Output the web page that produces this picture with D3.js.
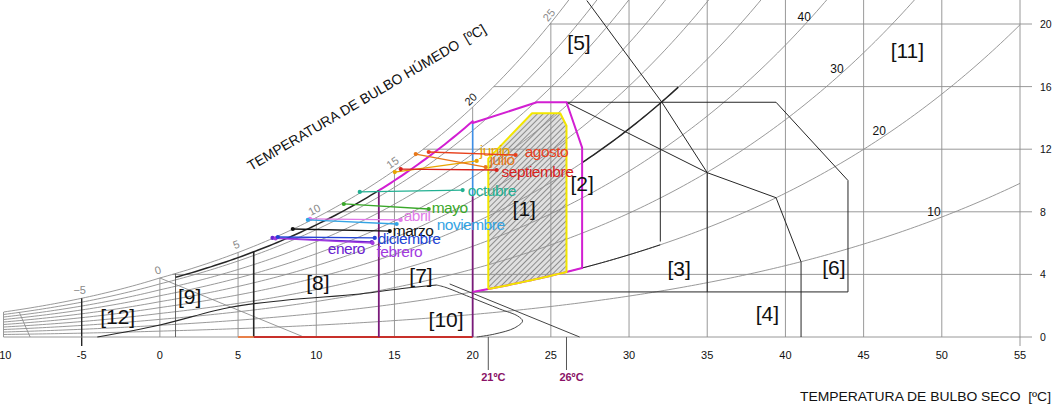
<!DOCTYPE html>
<html>
<head>
<meta charset="utf-8">
<script src="https://cdn.jsdelivr.net/npm/d3@7"></script>
<style>
  html, body { margin: 0; padding: 0; background: #fff; }
  svg { display: block; }
  text { font-family: "Liberation Sans", Arial, Helvetica, sans-serif; }
</style>
</head>
<body>
<svg id="chart" width="1057" height="411"></svg>
<script>
// ---- axes -------------------------------------------------------------
const dryBulbTicks = [-10, -5, 0, 5, 10, 15, 20, 25, 30, 35, 40, 45, 50, 55];
const humidityTicks = [0, 4, 8, 12, 16, 20];
const wetBulbLabels = [-5, 0, 5, 10, 15, 20, 25];
const rhCurves = [10, 20, 30, 40, 50, 60, 70, 80, 90, 100];
// relative humidity label: [rh, dry bulb where the label sits]
const rhLabelRh = [10, 20, 30, 40];
const rhLabelT = [49.5, 46.0, 43.3, 41.2];
const comfortMarks = [21, 26];

// ---- monthly climate: [T at one end, w], [T at other end, w] ------------
const months = ["enero", "febrero", "marzo", "abril", "mayo", "junio",
                "julio", "agosto", "septiembre", "octubre", "noviembre", "diciembre"];
const tStart = [7.2, 7.4, 8.5, 9.6, 11.76, 15.02, 16.36, 17.19, 15.4, 12.78, 9.46, 7.54];
const wStart = [6.33, 6.3, 6.9, 7.55, 8.50, 10.54, 11.69, 11.82, 10.73, 9.27, 7.48, 6.39];
const tEnd   = [13.55, 13.6, 14.7, 15.4, 17.19, 20.26, 20.83, 22.75, 21.53, 19.36, 15.14, 13.74];
const wEnd   = [6.07, 6.0, 6.77, 7.48, 8.18, 11.25, 10.86, 11.63, 10.67, 9.39, 7.22, 6.33];

// ---- bioclimatic zones (dry bulb, humidity) ------------------------------
const zoneNames = ["[1]", "[2]", "[3]", "[4]", "[5]", "[6]", "[7]", "[8]", "[9]", "[10]", "[11]", "[12]"];
const zoneLabelT = [23.3, 27.0, 33.2, 38.85, 26.8, 43.1, 16.7, 10.1, 1.9, 18.3, 47.8, -2.7];
const zoneLabelW = [8.24, 9.84, 4.4, 1.53, 18.8, 4.47, 3.96, 3.5, 2.56, 1.09, 18.3, 1.34];

// upper-left edge of the comfort zone [1]
const comfortTop = [[26, 13.5], [25.6, 14.3], [23.8, 14.3], [21, 11.4]];
// extended comfort zone [2], upper edge after the 94 % curve
const extendedTop = [[20, 13.67], [24.1, 15.0], [26, 15.0], [27, 12.1], [27, 4.55]];
// outline of zones [3] and [6]
const outerBox = [[26, 15.0], [39.4, 15.0], [44, 10.0], [44, 2.88], [20, 2.88]];
const coolingEdge = [[26, 15.0], [35, 10.5], [39.4, 8.9], [41, 4.8], [41, 0]];
const ventilationEdge = [[27.3, 21.5], [32.1, 15.0], [35, 10.5], [35, 2.88]];
const massEdge = [[32, 15.0], [32, 6.1]];
const heatingCurve = [[-4, 0], [0, 0.77], [4.5, 1.9], [8, 2.35], [12.8, 2.75], [15.5, 3.1], [17.7, 3.32]];
const humidifyCurve = [[17.7, 3.32], [18.21, 3.19], [19.81, 2.56], [21.73, 1.79], [22.88, 1.34],
                       [23.19, 1.02], [22.68, 0.58], [21.41, 0.19], [20.26, 0]];
const wetBulbEdge = [[18.53, 3.39], [26.84, 0]];
const wetBulbZero = [[0, 3.77], [9.2, 0]];
const coldEdge = [[-9.0, 1.6], [-8.3, 0]];

// ---- psychrometrics (sea level) ----------------------------------------
const P_ATM = 101.325;
function satPressure(t) {
  return t >= 0 ? 0.61078 * Math.exp(17.27 * t / (t + 237.3))
                : 0.61078 * Math.exp(21.875 * t / (t + 265.5));
}
function humidityRatio(t, rh) {
  const pv = rh / 100 * satPressure(t);
  return 621.98 * pv / (P_ATM - pv);
}
function satTemperature(w) {
  let lo = -40, hi = 80;
  for (let i = 0; i < 60; i++) {
    const mid = (lo + hi) / 2;
    if (humidityRatio(mid, 100) < w) lo = mid; else hi = mid;
  }
  return (lo + hi) / 2;
}
function rhPoints(rh, t0, t1, step = 0.25) {
  const pts = [];
  const n = Math.max(1, Math.ceil(Math.abs(t1 - t0) / step));
  for (let i = 0; i <= n; i++) {
    const t = t0 + (t1 - t0) * i / n;
    pts.push([t, humidityRatio(t, rh)]);
  }
  return pts;
}

// ---- drawing -----------------------------------------------------------
const svg = d3.select("#chart");
const x = d3.scaleLinear().domain([-10, 55]).range([3.5, 1020]);
const y = d3.scaleLinear().domain([0, 20]).range([337, 24]);
const wTop = y.invert(-2);

const line = d3.line().x(d => x(d[0])).y(d => y(d[1]));
const smooth = d3.line().x(d => x(d[0])).y(d => y(d[1])).curve(d3.curveCatmullRom.alpha(0.5));

const defs = svg.append("defs");
defs.append("clipPath").attr("id", "plotClip")
  .append("rect").attr("x", x(-10)).attr("y", -5).attr("width", x(55) - x(-10) + 0.5).attr("height", y(0) + 5);
const hatch = defs.append("pattern").attr("id", "hatch")
  .attr("patternUnits", "userSpaceOnUse").attr("width", 4).attr("height", 4)
  .attr("patternTransform", "rotate(45)");
hatch.append("rect").attr("width", 4).attr("height", 4).attr("fill", "#e0e0e0");
hatch.append("line").attr("x1", 0).attr("y1", 0).attr("x2", 0).attr("y2", 4)
  .attr("stroke", "#606060").attr("stroke-width", 1.3);

const GRID = "#8d8d8d";
const INK = "#262626";

// comfort zone fill sits underneath the grid
const comfortPoly = rhPoints(20, 21, 26).concat(comfortTop);
svg.append("path").attr("d", line(comfortPoly) + "Z").attr("fill", "url(#hatch)");

const grid = svg.append("g").attr("clip-path", "url(#plotClip)");

// relative humidity curves
rhCurves.forEach(rh => {
  grid.append("path")
    .attr("d", line(rhPoints(rh, -10, 55, 0.25).filter(d => d[1] <= wTop + 3)))
    .attr("fill", "none").attr("stroke", GRID).attr("stroke-width", 0.9);
});

// dry bulb verticals (up to saturation)
dryBulbTicks.forEach(t => {
  const top = Math.min(humidityRatio(t, 100), wTop);
  svg.append("line")
    .attr("x1", x(t)).attr("x2", x(t)).attr("y1", y(0)).attr("y2", y(top))
    .attr("stroke", t === -5 ? INK : GRID).attr("stroke-width", t === -5 ? 1.4 : 0.9);
});
// short ticks below the axis at the ends
[-5, 55].forEach(t => {
  svg.append("line").attr("x1", x(t)).attr("x2", x(t)).attr("y1", y(0)).attr("y2", y(0) + 9)
    .attr("stroke", t === -5 ? INK : GRID).attr("stroke-width", t === -5 ? 1.4 : 0.9);
});

// humidity horizontals (from saturation to the right edge)
humidityTicks.forEach(w => {
  const t0 = w === 0 ? -10 : satTemperature(w);
  svg.append("line")
    .attr("x1", x(t0)).attr("x2", x(55) + 12).attr("y1", y(w)).attr("y2", y(w))
    .attr("stroke", GRID).attr("stroke-width", 0.9);
});

// wet bulb reference lines
svg.append("path").attr("d", line(wetBulbZero)).attr("fill", "none").attr("stroke", GRID).attr("stroke-width", 0.9);
svg.append("path").attr("d", line(coldEdge)).attr("fill", "none").attr("stroke", GRID).attr("stroke-width", 0.9);
svg.append("line").attr("x1", x(1)).attr("x2", x(1)).attr("y1", y(0)).attr("y2", y(humidityRatio(1, 100)))
  .attr("stroke", "#555").attr("stroke-width", 0.9);

// ---- zone outlines ------------------------------------------------------
function stroke(d, color, width, gen = line) {
  svg.append("path").attr("d", gen(d)).attr("fill", "none")
    .attr("stroke", color).attr("stroke-width", width).attr("stroke-linejoin", "round");
}
stroke(outerBox, INK, 1);
stroke(coolingEdge, INK, 1);
stroke(ventilationEdge, INK, 1);
stroke(massEdge, INK, 1);
stroke(rhPoints(20, 27, 32), INK, 1);
stroke(rhPoints(50, 27, 33.15), INK, 1.5);
stroke(rhPoints(94, 1, 14), INK, 1.5);
stroke([[6, 0], [6, humidityRatio(6, 94)]], INK, 1.6);
stroke(heatingCurve, INK, 1.1, smooth);
stroke(humidifyCurve, "#444", 1, smooth);
stroke(wetBulbEdge, "#444", 1);

// floor of zones [7] and [8]
stroke([[5, 0], [6, 0]], "#e8804a", 2);
stroke([[6, 0], [20, 0]], "#c8302a", 2);
// purple limits at 14 °C and 20 °C
stroke([[14, 0], [14, humidityRatio(14, 94)]], "#7a1a7a", 1.8);
stroke([[20, 0], [20, 9.0]], "#7a1a7a", 1.8);
stroke([[20, 9.0], [20, 13.67]], "#3d8fe8", 1.6);

// extended comfort zone [2]
const extended = rhPoints(94, 14, 20).concat(extendedTop, rhPoints(20, 27, 20));
stroke(extended, "#d21fd2", 2);

// comfort zone [1] border
stroke(comfortPoly.concat([comfortPoly[0]]), "#f2e600", 2);

// comfort temperature marks
comfortMarks.forEach(t => {
  svg.append("line").attr("x1", x(t)).attr("x2", x(t)).attr("y1", y(0)).attr("y2", y(0) + 33)
    .attr("stroke", "#555").attr("stroke-width", 1);
  svg.append("text").attr("x", x(t) + 5).attr("y", y(0) + 44)
    .attr("text-anchor", "middle").attr("font-size", 11).attr("font-weight", "bold")
    .attr("fill", "#8a1266").text(t + "ºC");
});

// ---- months -------------------------------------------------------------
const monthColor = {
  enero: "#6a22d0", febrero: "#a23ae0", marzo: "#111111", abril: "#e07ae8",
  mayo: "#3aa82a", junio: "#e8a400", julio: "#e8781a", agosto: "#e8401c",
  septiembre: "#d8221c", octubre: "#22b092", noviembre: "#34a4e4", diciembre: "#2244d4"
};
const labelShift = {
  enero: [-44, 8], febrero: [4, 10], marzo: [3, 1], abril: [3, -3], mayo: [3, 0],
  junio: [3, -9], julio: [4, -6], agosto: [9, -2], septiembre: [5, 3],
  octubre: [5, 2], noviembre: [40, 2], diciembre: [3, 2]
};
const monthLayer = svg.append("g");
months.forEach((m, i) => {
  const a = [tStart[i], wStart[i]], b = [tEnd[i], wEnd[i]];
  const c = monthColor[m];
  monthLayer.append("path").attr("d", line([a, b])).attr("stroke", c).attr("stroke-width", 1.3).attr("fill", "none");
  [a, b].forEach(p => monthLayer.append("circle").attr("cx", x(p[0])).attr("cy", y(p[1])).attr("r", 2.1).attr("fill", c));
  const s = labelShift[m];
  monthLayer.append("text").attr("x", x(b[0]) + s[0]).attr("y", y(b[1]) + s[1])
    .attr("dominant-baseline", "middle").attr("font-size", 15.5).attr("letter-spacing", -0.5)
    .attr("fill", c).text(m);
});

// ---- zone labels ---------------------------------------------------------
zoneNames.forEach((n, i) => {
  svg.append("text").attr("x", x(zoneLabelT[i])).attr("y", y(zoneLabelW[i]))
    .attr("text-anchor", "middle").attr("dominant-baseline", "central")
    .attr("font-size", 21).attr("fill", "#111").text(n);
});

// ---- axis labels -------------------------------------------------------
dryBulbTicks.forEach(t => {
  svg.append("text").attr("x", x(t)).attr("y", y(0) + 22).attr("text-anchor", "middle")
    .attr("font-size", 11).attr("fill", "#111").text(t);
});
humidityTicks.forEach(w => {
  svg.append("text").attr("x", x(55) + 20).attr("y", y(w)).attr("dominant-baseline", "central")
    .attr("font-size", 10.5).attr("fill", "#111").text(w);
});
rhLabelRh.forEach((rh, i) => {
  const t = rhLabelT[i];
  svg.append("text").attr("x", x(t)).attr("y", y(humidityRatio(t, rh)) - 8).attr("text-anchor", "middle")
    .attr("dominant-baseline", "central").attr("font-size", 12).attr("fill", "#111").text(rh);
});
wetBulbLabels.forEach(t => {
  const w = humidityRatio(t, 100);
  const slope = (humidityRatio(t + 0.5, 100) - humidityRatio(t - 0.5, 100));
  const ang = t <= -5 ? 0 : -Math.atan(slope) * 180 / Math.PI;
  const gx = x(t) - 2, gy = y(w) - 8;
  svg.append("text").attr("transform", `translate(${gx},${gy}) rotate(${ang})`)
    .attr("text-anchor", "middle").attr("dominant-baseline", "central")
    .attr("font-size", 11).attr("fill", t === 20 ? "#222" : "#8a8a8a")
    .text(t < 0 ? "\u2212" + Math.abs(t) : t);
});

// axis titles (two spaces before the unit are kept)
svg.append("text").attr("transform", "translate(251,171) rotate(-30.5)")
  .attr("font-size", 14).attr("fill", "#111").attr("textLength", 274).attr("lengthAdjust", "spacingAndGlyphs")
  .text("TEMPERATURA DE BULBO HÚMEDO\u00a0 [ºC]");
svg.append("text").attr("x", 800).attr("y", 401)
  .attr("font-size", 13.5).attr("fill", "#111").attr("textLength", 251).attr("lengthAdjust", "spacingAndGlyphs")
  .text("TEMPERATURA DE BULBO SECO\u00a0 [ºC]");
</script>
</body>
</html>
